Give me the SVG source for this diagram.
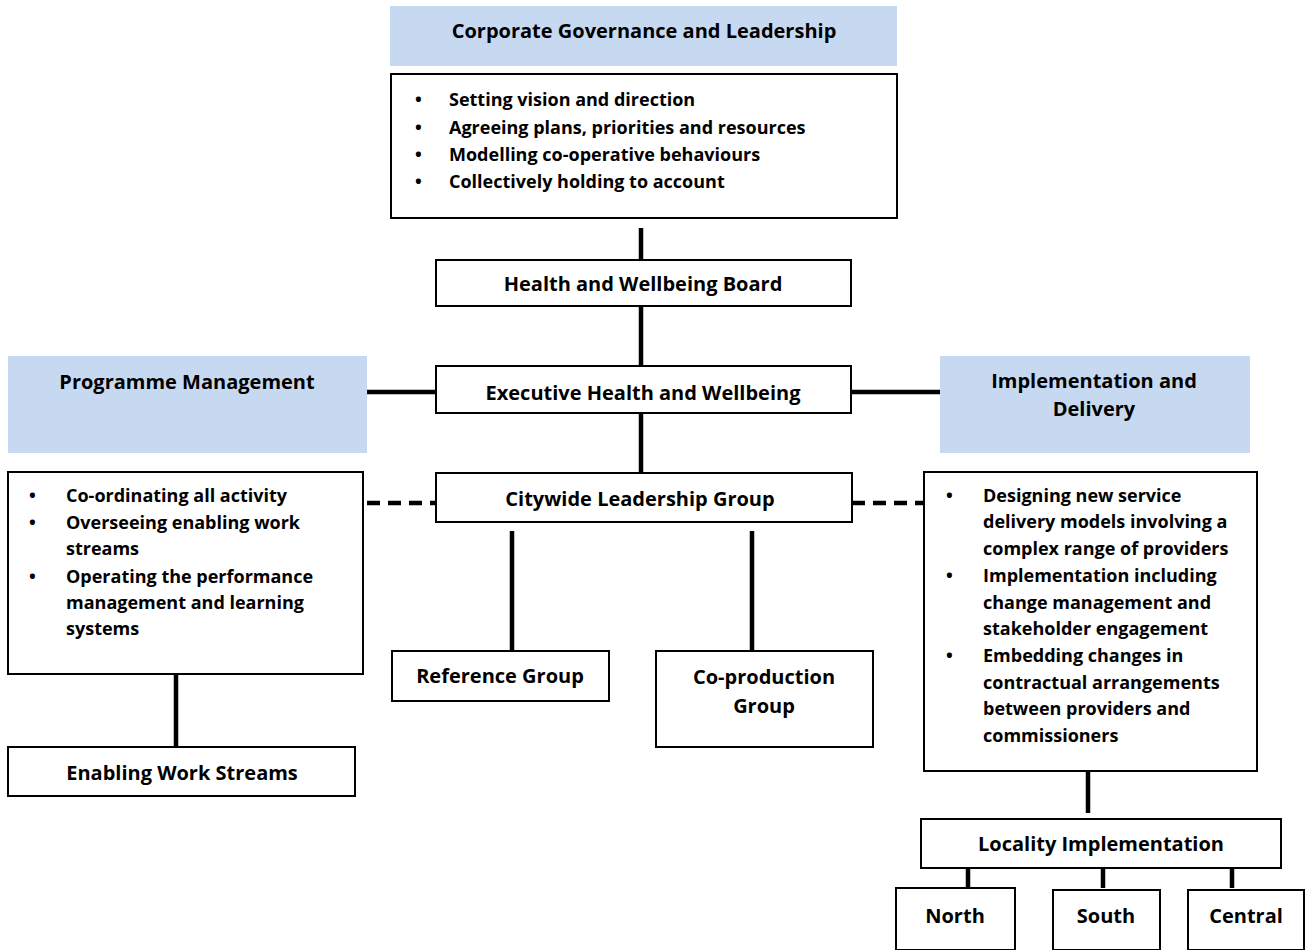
<svg xmlns="http://www.w3.org/2000/svg" width="1308" height="950" viewBox="0 0 1308 950">
<style>
text{font-family:"Open Sans","Noto Sans","Liberation Sans",sans-serif;font-weight:bold;font-size:18px;fill:#000}
.c{text-anchor:middle;font-size:20px}
.hdr{fill:#c6d9f1;stroke:none}
.box{fill:#fff;stroke:#000;stroke-width:2}
.ln{stroke:#000;stroke-width:4.5;fill:none}
.dash{stroke:#000;stroke-width:4.5;fill:none;stroke-dasharray:13,8}
</style>
<rect width="1308" height="950" fill="#fff"/>
<g id="connectors">
<line class="ln" x1="641" y1="228" x2="641" y2="260"/>
<line class="ln" x1="641" y1="306" x2="641" y2="366"/>
<line class="ln" x1="641" y1="413" x2="641" y2="473"/>
<line class="ln" x1="367" y1="392" x2="436" y2="392"/>
<line class="ln" x1="851" y1="392" x2="940" y2="392"/>
<line class="dash" x1="367" y1="503" x2="436" y2="503"/>
<line class="dash" x1="852" y1="503" x2="924" y2="503"/>
<line class="ln" x1="512" y1="531" x2="512" y2="651"/>
<line class="ln" x1="752" y1="531" x2="752" y2="651"/>
<line class="ln" x1="176" y1="674" x2="176" y2="747"/>
<line class="ln" x1="1088" y1="771" x2="1088" y2="813"/>
<line class="ln" x1="968" y1="868" x2="968" y2="888"/>
<line class="ln" x1="1103" y1="868" x2="1103" y2="888"/>
<line class="ln" x1="1232" y1="868" x2="1232" y2="888"/>
</g>
<g id="corporate-header">
<rect class="hdr" x="390" y="6" width="507" height="60"/>
<text class="c" x="644" y="38">Corporate Governance and Leadership</text>
</g>
<g id="corporate-bullets">
<rect class="box" x="391" y="74" width="506" height="144"/>
<text x="415" y="106">•</text><text x="449" y="106">Setting vision and direction</text>
<text x="415" y="134">•</text><text x="449" y="134">Agreeing plans, priorities and resources</text>
<text x="415" y="161">•</text><text x="449" y="161">Modelling co-operative behaviours</text>
<text x="415" y="188">•</text><text x="449" y="188">Collectively holding to account</text>
</g>
<g id="hwb">
<rect class="box" x="436" y="260" width="415" height="46"/>
<text class="c" x="643" y="291">Health and Wellbeing Board</text>
</g>
<g id="executive">
<rect class="box" x="436" y="366" width="415" height="47"/>
<text class="c" x="643" y="400">Executive Health and Wellbeing</text>
</g>
<g id="programme-header">
<rect class="hdr" x="8" y="356" width="359" height="97"/>
<text class="c" x="187" y="389">Programme Management</text>
</g>
<g id="implementation-header">
<rect class="hdr" x="940" y="356" width="310" height="97"/>
<text class="c" x="1094" y="388">Implementation and</text>
<text class="c" x="1094" y="416">Delivery</text>
</g>
<g id="citywide">
<rect class="box" x="436" y="473" width="416" height="49"/>
<text class="c" x="640" y="506">Citywide Leadership Group</text>
</g>
<g id="programme-bullets">
<rect class="box" x="8" y="472" width="355" height="202"/>
<text x="29" y="502">•</text><text x="66" y="502">Co-ordinating all activity</text>
<text x="29" y="529">•</text><text x="66" y="529">Overseeing enabling work</text>
<text x="66" y="555">streams</text>
<text x="29" y="583">•</text><text x="66" y="583">Operating the performance</text>
<text x="66" y="609">management and learning</text>
<text x="66" y="635">systems</text>
</g>
<g id="enabling">
<rect class="box" x="8" y="747" width="347" height="49"/>
<text class="c" x="182" y="780">Enabling Work Streams</text>
</g>
<g id="reference">
<rect class="box" x="392" y="651" width="217" height="50"/>
<text class="c" x="500" y="683">Reference Group</text>
</g>
<g id="coproduction">
<rect class="box" x="656" y="651" width="217" height="96"/>
<text class="c" x="764" y="684">Co-production</text>
<text class="c" x="764" y="713">Group</text>
</g>
<g id="implementation-bullets">
<rect class="box" x="924" y="472" width="333" height="299"/>
<text x="946" y="502">•</text><text x="983" y="502">Designing new service</text>
<text x="983" y="528">delivery models involving a</text>
<text x="983" y="555">complex range of providers</text>
<text x="946" y="582">•</text><text x="983" y="582">Implementation including</text>
<text x="983" y="609">change management and</text>
<text x="983" y="635">stakeholder engagement</text>
<text x="946" y="662">•</text><text x="983" y="662">Embedding changes in</text>
<text x="983" y="689">contractual arrangements</text>
<text x="983" y="715">between providers and</text>
<text x="983" y="742">commissioners</text>
</g>
<g id="locality">
<rect class="box" x="921" y="819" width="360" height="49"/>
<text class="c" x="1101" y="851">Locality Implementation</text>
</g>
<g id="north">
<rect class="box" x="896" y="888" width="119" height="62"/>
<text class="c" x="955" y="923">North</text>
</g>
<g id="south">
<rect class="box" x="1053" y="890" width="107" height="60"/>
<text class="c" x="1106" y="923">South</text>
</g>
<g id="central">
<rect class="box" x="1188" y="890" width="116" height="60"/>
<text class="c" x="1246" y="923">Central</text>
</g>
</svg>
